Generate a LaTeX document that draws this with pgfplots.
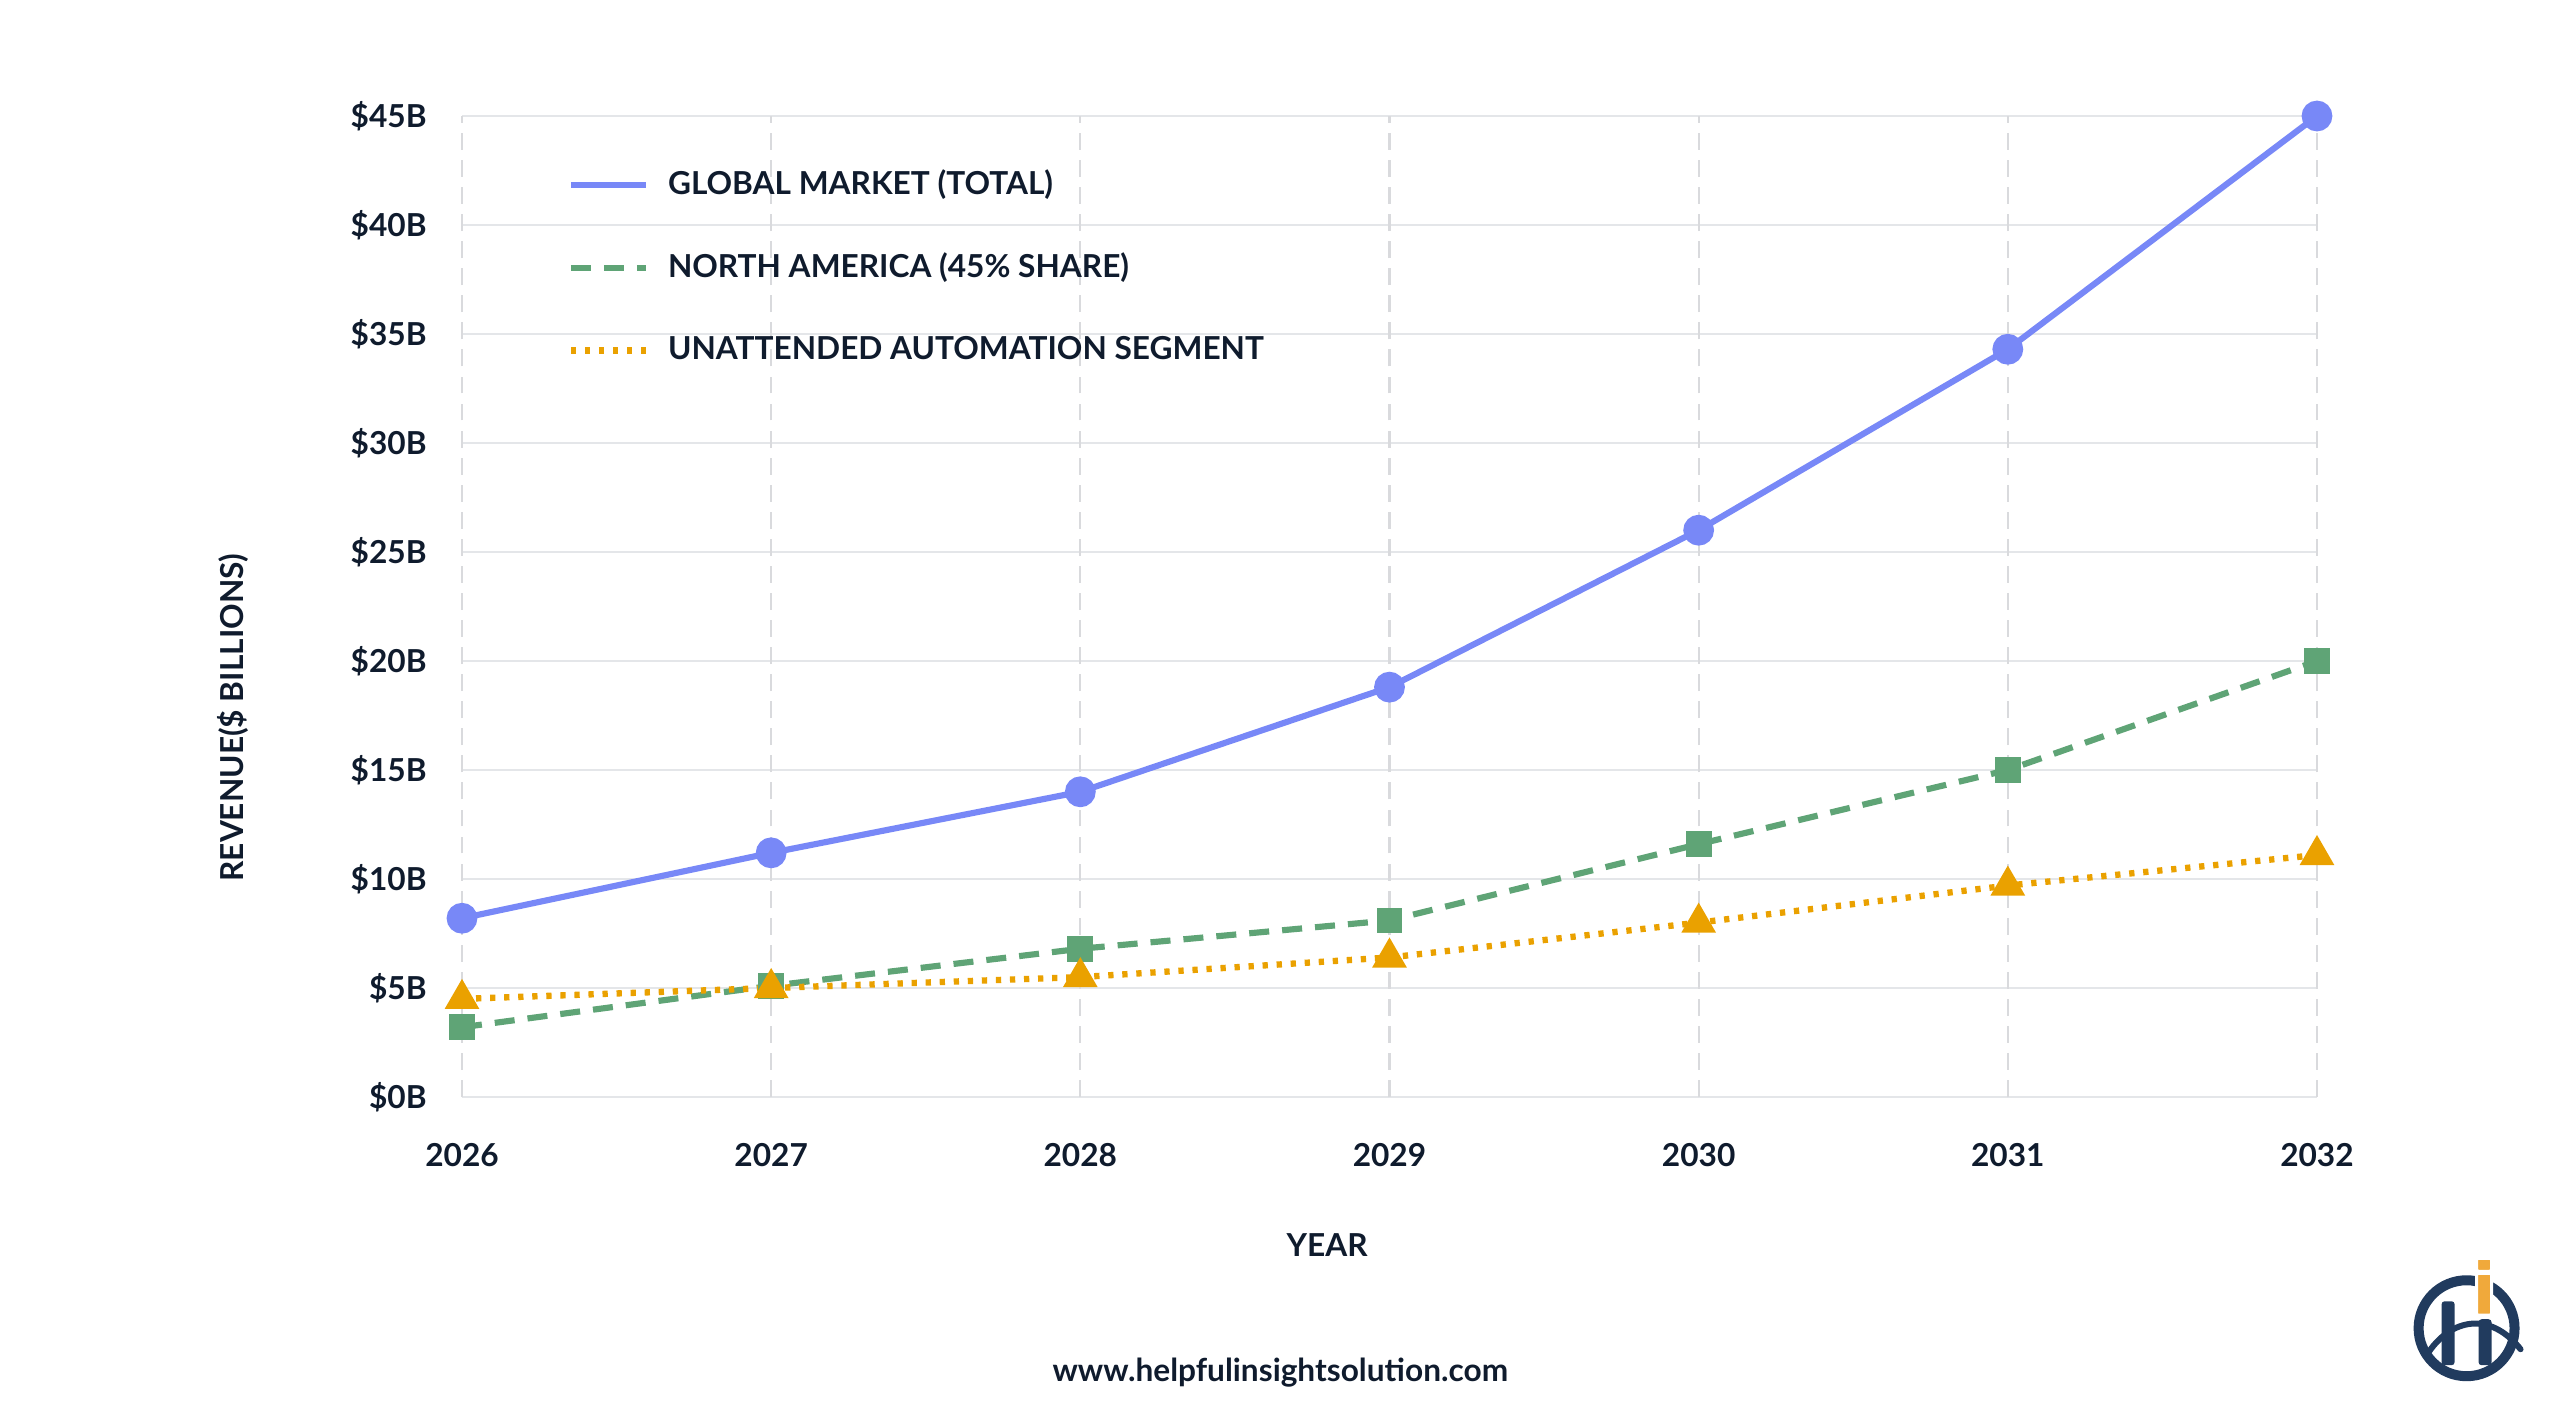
\documentclass[border=0pt]{standalone}
\usepackage{fontspec}
\setmainfont{Lato}
\usepackage{pgfplots}
\pgfplotsset{compat=1.18}

\definecolor{textnavy}{HTML}{0F1B2D}
\definecolor{globalblue}{HTML}{7888F7}
\definecolor{nagreen}{HTML}{5FA476}
\definecolor{uaorange}{HTML}{EAA100}
\definecolor{gridgray}{HTML}{E4E6E9}
\definecolor{vgridgray}{HTML}{D9DADD}
\definecolor{logonavy}{HTML}{213B5E}
\definecolor{logoorange}{HTML}{F0A93B}

\newcommand{\chartfont}{\fontsize{9}{11}\selectfont\bfseries}

\begin{document}
\begin{tikzpicture}
\useasboundingbox (0,0) rectangle (25.6cm,14.22cm);

\begin{axis}[
  at={(4.62cm,3.25cm)}, anchor=south west,
  scale only axis, width=18.55cm, height=9.81cm,
  xmin=2026, xmax=2032, ymin=0, ymax=45,
  clip=false,
  xtick={2026,2027,2028,2029,2030,2031,2032},
  xticklabels={2026,2027,2028,2029,2030,2031,2032},
  ytick={0,5,10,15,20,25,30,35,40,45},
  yticklabels={\$0B,\$5B,\$10B,\$15B,\$20B,\$25B,\$30B,\$35B,\$40B,\$45B},
  /pgf/number format/assume math mode=true,
  tick label style={font=\chartfont, text=textnavy},
  xticklabel style={yshift=-0.34cm},
  yticklabel style={xshift=-0.23cm},
  axis line style={draw=none},
  tick style={draw=none},
  ymajorgrids,
  major grid style={gridgray, line width=0.8pt},
  legend style={draw=none, fill=none, inner sep=0pt,
    at={(0.0566,0.953)}, anchor=north west,
    font=\chartfont, text=textnavy, row sep=0.39cm,
    /tikz/every odd column/.append style={column sep=0.12cm}},
  legend cell align=left,
  legend image code/.code={\draw[#1,mark=none] (0cm,0cm) -- (0.75cm,0cm);},
]

% dashed vertical guides at each year
\pgfplotsinvokeforeach{2026,2027,2028,2029,2030,2031,2032}{
  \draw[vgridgray, line width=0.6pt, dash pattern=on 4.8pt off 2.9pt]
    (axis cs:#1,0) -- (axis cs:#1,45);
}

\addplot[globalblue, line width=1.75pt, mark=*, mark size=3.5pt,
  mark options={solid}]
  coordinates {(2026,8.2) (2027,11.2) (2028,14.0) (2029,18.8)
               (2030,26.0) (2031,34.3) (2032,45.0)};
\addlegendentry{GLOBAL MARKET (TOTAL)}

\addplot[nagreen, line width=1.75pt, dash pattern=on 5.7pt off 3.7pt,
  mark=square*, mark size=2.8pt, mark options={solid}]
  coordinates {(2026,3.2) (2027,5.1) (2028,6.8) (2029,8.1)
               (2030,11.6) (2031,15.0) (2032,20.0)};
\addlegendentry{NORTH AMERICA (45\% SHARE)}

\addplot[uaorange, line width=1.8pt, dash pattern=on 1.5pt off 2.5pt,
  mark=triangle*, mark size=3.9pt, mark options={solid}]
  coordinates {(2026,4.5) (2027,5.0) (2028,5.5) (2029,6.4)
               (2030,8.0) (2031,9.7) (2032,11.1)};
\addlegendentry{UNATTENDED AUTOMATION SEGMENT}
\end{axis}

% labels, footer and logo, positioned in a top-left based grid
\begin{scope}[x=0.01cm, y=-0.01cm, shift={(0cm,14.22cm)}]
  \node[rotate=90, font=\chartfont, text=textnavy] at (233,718) {REVENUE(\$ BILLIONS)};
  \node[font=\chartfont, text=textnavy] at (1328,1246) {YEAR};
  \node[font=\chartfont, text=textnavy] at (1281,1373) {www.helpfulinsightsolution.com};

  % logo
  \draw[logonavy, line width=0.1cm] (2468,1329) circle (48);
  \draw[logonavy, line width=0.06cm, line cap=round]
    (2428,1356) .. controls (2452,1318) and (2492,1312) .. (2522,1350);
  \fill[logonavy, rounded corners=0.03cm] (2443,1302) rectangle (2456,1366);
  \fill[logonavy, rounded corners=0.03cm] (2480,1320) rectangle (2493,1366);
  \fill[logoorange, draw=white, line width=0.03cm, rounded corners=0.02cm]
    (2478,1274) rectangle (2493,1316);
  \fill[logoorange, draw=white, line width=0.03cm, rounded corners=0.02cm]
    (2478,1259) rectangle (2493,1272);
\end{scope}
\end{tikzpicture}
\end{document}
